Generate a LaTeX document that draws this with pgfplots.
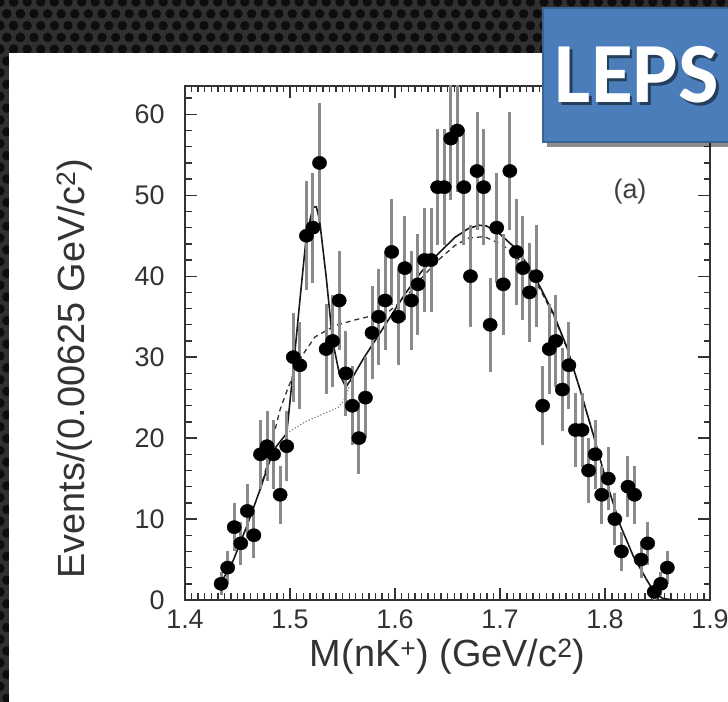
\documentclass[border=0pt]{standalone}
\usepackage{pgfplots}
\pgfplotsset{compat=1.18}
\usepackage{pgfplotstable}
\usepackage{fontspec}
\setmainfont{Liberation Sans}
\newfontfamily\lepsfont{Carlito}
\definecolor{lepsblue}{HTML}{4A7DBA}
\definecolor{lepsedge}{HTML}{3A6293}
\definecolor{meshbg}{HTML}{303030}
\definecolor{errgray}{HTML}{8A8A8A}
\tikzset{tk/.style={black!80, line width=1.4bp}}

\pgfplotstableread{
x y e
1.434375 2 1.41
1.440625 4 2
1.446875 9 3
1.453125 7 2.65
1.459375 11 3.32
1.465625 8 2.83
1.471875 18 4.24
1.478125 19 4.36
1.484375 18 4.24
1.490625 13 3.61
1.496875 19 4.36
1.503125 30 5.48
1.509375 29 5.39
1.515625 45 6.71
1.521875 46 6.78
1.528125 54 7.35
1.534375 31 5.57
1.540625 32 5.66
1.546875 37 6.08
1.553125 28 5.29
1.559375 24 4.90
1.565625 20 4.47
1.571875 25 5.00
1.578125 33 5.74
1.584375 35 5.92
1.590625 37 6.08
1.596875 43 6.56
1.603125 35 5.92
1.609375 41 6.40
1.615625 37 6.08
1.621875 39 6.24
1.628125 42 6.48
1.634375 42 6.48
1.640625 51 7.14
1.646875 51 7.14
1.653125 57 7.55
1.659375 58 7.62
1.665625 51 7.14
1.671875 40 6.32
1.678125 53 7.28
1.684375 51 7.14
1.690625 34 5.83
1.696875 46 6.78
1.703125 39 6.24
1.709375 53 7.28
1.715625 43 6.56
1.721875 41 6.40
1.728125 38 6.16
1.734375 40 6.32
1.740625 24 4.90
1.746875 31 5.57
1.753125 32 5.66
1.759375 26 5.10
1.765625 29 5.39
1.771875 21 4.58
1.778125 21 4.58
1.784375 16 4.00
1.790625 18 4.24
1.796875 13 3.61
1.803125 15 3.87
1.809375 10 3.16
1.815625 6 2.45
1.821875 14 3.74
1.828125 13 3.61
1.834375 5 2.24
1.840625 7 2.65
1.846875 1 1.00
1.853125 2 1.41
1.859375 4 2.00
}\datatable

\begin{document}
\begin{tikzpicture}
\begin{scope}[x=1bp,y=1bp]
  \clip (0,0) rectangle (728,702);
  \fill[meshbg] (0,0) rectangle (728,702);
  \foreach \j in {0,...,5} {
    \foreach \i in {0,...,54} {
      \pgfmathsetmacro\xx{\i*13.6+mod(\j,2)*6.8}
      \pgfmathsetmacro\yy{700-\j*11.8}
      \fill[black!95] (\xx,\yy) circle (4.7);
    }
  }
  \foreach \j in {0,...,60} {
    \foreach \i in {0,...,1} {
      \pgfmathsetmacro\xx{\i*13.6+mod(\j,2)*6.8}
      \pgfmathsetmacro\yy{700-\j*11.8}
      \fill[black!95] (\xx,\yy) circle (4.7);
    }
  }
  \fill[white] (9,0) rectangle (728,649);
\end{scope}

\begin{axis}[
  at={(185bp,102bp)}, anchor=south west,
  scale only axis, width=525bp, height=514bp,
  xmin=1.4, xmax=1.9, ymin=0, ymax=63.5,
  xtick={1.4,1.5,1.6,1.7,1.8,1.9},
  ytick={0,10,20,30,40,50,60},
  tick align=inside,
  major tick length=0pt,
  axis line style={black!80, line width=1.6bp},
  /pgf/number format/assume math mode=true,
  xticklabel style={/pgf/number format/fixed, /pgf/number format/fixed zerofill, /pgf/number format/precision=1, yshift=-6bp},
  tick label style={font=\fontsize{27}{30}\selectfont, text=black!80},
  yticklabel style={xshift=-17bp},
  xlabel={M(nK\textsuperscript{+}) (GeV/c\textsuperscript{2})},
  ylabel={Events/(0.00625 GeV/c\textsuperscript{2})},
  label style={font=\fontsize{38}{42}\selectfont, text=black!80},
  xlabel style={yshift=-4bp},
  ylabel style={at={(axis description cs:-0.21,0.45)}, anchor=center},
  clip mode=individual,
]
% tick marks on all four sides (minor every 0.00625 and every 2 events)
\pgfplotsinvokeforeach{1.40625,1.4125,...,1.895}{
  \draw[tk] (axis cs:#1,0) -- ++(0pt,6.5bp);
  \draw[tk] (axis cs:#1,63.5) -- ++(0pt,-6.5bp);
}
\pgfplotsinvokeforeach{1.4,1.5,1.6,1.7,1.8,1.9}{
  \draw[tk] (axis cs:#1,0) -- ++(0pt,12bp);
  \draw[tk] (axis cs:#1,63.5) -- ++(0pt,-12bp);
}
\pgfplotsinvokeforeach{2,4,...,62}{
  \draw[tk] (axis cs:1.4,#1) -- ++(6.5bp,0pt);
  \draw[tk] (axis cs:1.9,#1) -- ++(-6.5bp,0pt);
}
\pgfplotsinvokeforeach{10,20,...,60}{
  \draw[tk] (axis cs:1.4,#1) -- ++(12bp,0pt);
  \draw[tk] (axis cs:1.9,#1) -- ++(-12bp,0pt);
}
% dotted background under peak
\addplot[gray, line width=1.2bp, dotted] coordinates {
(1.4968,20.6) (1.5143,22.0) (1.5302,22.9) (1.5460,23.8) (1.5531,25.0) (1.5560,26.3)};
% dashed background-only fit
\addplot[black!80, line width=1.3bp, dash pattern=on 5bp off 4bp] coordinates {
(1.4714,13.6) (1.4800,17.5) (1.4857,21.0) (1.4905,23.5) (1.4984,26.3) (1.5111,30.1)
(1.5238,32.5) (1.5429,33.9) (1.5619,34.6) (1.5778,35.1) (1.5937,35.6) (1.6095,37.3)
(1.6254,39.8) (1.6413,42.0) (1.6571,43.8) (1.6700,44.7) (1.6850,44.9) (1.7032,43.8)
(1.7200,41.8) (1.7381,38.4) (1.7508,35.2) (1.7635,31.2) (1.7762,26.0) (1.7889,20.4)};
% solid full fit
\addplot[black!90, line width=1.6bp] coordinates {
(1.4317,1.5) (1.4460,4.9) (1.4588,9.1) (1.4714,13.6) (1.4841,18.5) (1.4969,20.6)
(1.5031,28.5) (1.5094,37.0) (1.5156,45.0) (1.5219,48.5) (1.5250,48.6) (1.5281,47.0)
(1.5344,40.0) (1.5406,32.0) (1.5469,28.0) (1.5531,26.3) (1.5600,27.6) (1.5698,29.8)
(1.5778,31.4) (1.5937,34.6) (1.6095,37.8) (1.6254,40.6) (1.6413,42.8) (1.6571,44.8)
(1.6700,45.9) (1.6800,46.3) (1.6873,46.2) (1.7000,45.2) (1.7127,43.7) (1.7254,41.6)
(1.7381,38.7) (1.7508,35.4) (1.7635,31.3) (1.7762,26.0) (1.7889,20.4) (1.8016,14.5)
(1.8143,9.3) (1.8270,5.4) (1.8397,2.5) (1.8476,0.8) (1.8550,0.2) (1.8650,0.0)};
% data with error bars
\addplot[only marks, mark=*, mark size=6.6bp, mark options={black, fill=black, xscale=1.08},
  error bars/.cd, y dir=both, y explicit, error mark=none,
  error bar style={errgray, line width=3bp}]
  table[x=x, y=y, y error=e] {\datatable};
\end{axis}

\begin{scope}[x=1bp,y=1bp]
  \clip (0,0) rectangle (728,702);
  \node[font=\fontsize{27}{30}\selectfont, text=black!75] at (630,510) {(a)};
  \fill[black, opacity=0.45] (547,555) rectangle (740,690);
  \fill[lepsblue] (543,560) rectangle (740,694);
  \draw[lepsedge, line width=2.5bp] (543,560) rectangle (740,694);
  \begin{scope}[shift={(2.5,-3)}]
    \node[font=\lepsfont\bfseries\fontsize{86}{90}\selectfont, text=black, opacity=0.5] at (637,627) {LEPS};
  \end{scope}
  \node[font=\lepsfont\bfseries\fontsize{86}{90}\selectfont, text=white] at (637,627) {LEPS};
\end{scope}
\pgfresetboundingbox
\useasboundingbox (0,0) rectangle (728bp,702bp);
\end{tikzpicture}
\end{document}
